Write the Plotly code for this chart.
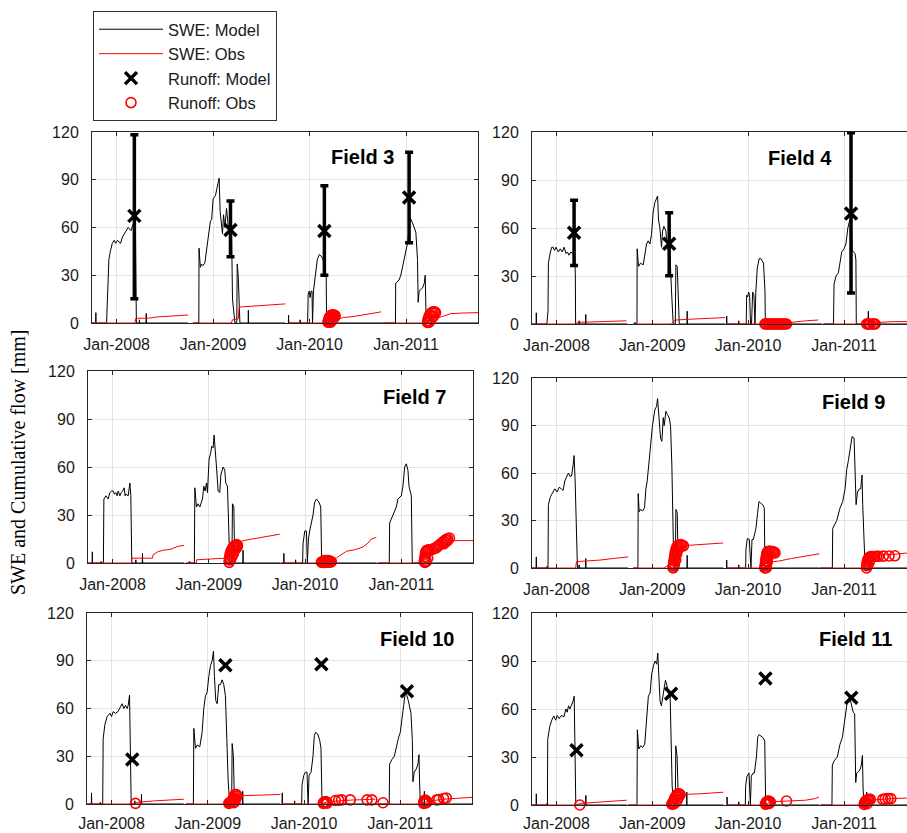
import plotly.graph_objects as go

# ---------------- DATA (decimal years, mm) ----------------
X_TICKS = [2008, 2009, 2010, 2011]
X_TICKTEXT = ["Jan-2008", "Jan-2009", "Jan-2010", "Jan-2011"]
Y_TICKS = [0, 30, 60, 90, 120]
FIELDS = ["Field 3", "Field 4", "Field 7", "Field 9", "Field 10", "Field 11"]

# ---- Field 3 ----
F3_SWE_MODEL = [
    [(2007.745,0),(2007.783,0),(2007.785,6.5),(2007.787,0),(2007.896,0),(2007.905,20),(2007.92,40),(2007.935,45),
     (2007.955,50),(2007.975,52),(2007.99,50),(2008.01,52),(2008.04,50),(2008.06,54),(2008.09,57),(2008.12,60),
     (2008.15,58),(2008.17,62),(2008.195,60),(2008.2,40),(2008.205,0),(2008.235,0),(2008.236,2),(2008.238,0),
     (2008.305,0),(2008.307,6),(2008.31,0),(2008.74,0)],
    [(2008.79,0),(2008.852,0),(2008.854,47),(2008.868,35),(2008.88,37),(2008.896,36),(2008.915,38),(2008.931,45),
     (2008.948,55),(2008.972,64),(2008.985,65),(2009.0,78),(2009.024,80),(2009.042,85),(2009.0625,91),(2009.073,70),
     (2009.087,58),(2009.097,56),(2009.108,68),(2009.122,60),(2009.139,72),(2009.155,62),(2009.167,60),(2009.191,58),
     (2009.201,15),(2009.226,0),(2009.245,0),(2009.25,37),(2009.26,30),(2009.278,0),(2009.364,0),(2009.365,8),
     (2009.367,0),(2009.747,0)],
    [(2009.78,0),(2009.782,5),(2009.784,0),(2009.9,0),(2009.902,2),(2009.904,0),(2009.979,0),(2009.985,18),
     (2009.995,20),(2010.005,16),(2010.015,20),(2010.025,20),(2010.03,0),(2010.04,20),(2010.06,30),(2010.08,40),
     (2010.1,43),(2010.12,42),(2010.14,40),(2010.16,30),(2010.172,30),(2010.176,0),(2010.75,0)],
    [(2010.753,0),(2010.89,0),(2010.892,25),(2010.91,26),(2010.927,27),(2010.945,30),(2010.962,35),(2010.979,40),
     (2010.997,45),(2011.014,50),(2011.03,58),(2011.042,66),(2011.066,63),(2011.085,60),(2011.101,57),(2011.118,40),
     (2011.125,13),(2011.135,20),(2011.17,22),(2011.188,25),(2011.198,30),(2011.208,0),(2011.745,0)],
]
F3_SWE_OBS = [
    [(2007.745,0),(2008.19,0),(2008.2,3),(2008.33,3),(2008.42,3.8),(2008.55,4.2),(2008.65,4.6),(2008.74,5)],
    [(2008.79,0),(2009.19,0),(2009.2,2),(2009.26,2.5),(2009.27,10),(2009.4,10.5),(2009.55,11),(2009.747,12)],
    [(2009.78,0),(2010.2,0),(2010.27,2),(2010.35,3.5),(2010.45,4),(2010.55,5),(2010.65,6),(2010.74,7)],
    [(2010.753,0),(2011.2,0),(2011.22,1),(2011.3,2.7),(2011.4,4.5),(2011.465,5.9),(2011.6,6.3),(2011.745,6.5)],
]
F3_RUNOFF_MODEL_T = [2008.184, 2009.18, 2010.153, 2011.031]
F3_RUNOFF_MODEL_V = [67.3, 58.4, 57.8, 78.8]
F3_RUNOFF_MODEL_HI = [118.3, 76.7, 86.2, 107.2]
F3_RUNOFF_MODEL_LO = [15.3, 41.6, 30.0, 50.4]
F3_RUNOFF_OBS = [
    (2010.19,0.5),(2010.195,1.5),(2010.2,2.5),(2010.205,3.5),(2010.215,4.3),(2010.225,5),(2010.24,5.2),(2010.255,5),
    (2010.265,4.5),(2010.21,1),(2010.225,2),(2010.24,3),(2010.255,3.5),(2010.2,0.5),(2010.22,0.5),
    (2011.222,0.3),(2011.225,1.5),(2011.23,3),(2011.24,4.5),(2011.25,5.5),(2011.265,6.5),(2011.28,7),(2011.295,7),
    (2011.305,6.5),(2011.24,1),(2011.26,2.5),(2011.28,4),(2011.235,0.3),
]

# ---- Field 4 ----
F4_SWE_MODEL = [
    [(2007.745,0),(2007.788,0),(2007.79,7),(2007.792,0),(2007.9,0),(2007.902,2),(2007.904,0),(2007.912,8),
     (2007.916,38),(2007.925,42),(2007.937,45),(2007.951,48),(2007.965,48),(2007.98,46),(2007.995,48),(2008.02,45),
     (2008.04,47),(2008.06,45),(2008.08,48),(2008.1,44),(2008.115,45),(2008.13,43),(2008.15,45),(2008.17,44),
     (2008.19,45),(2008.197,30),(2008.2,0),(2008.235,0),(2008.237,2),(2008.239,0),(2008.304,0),(2008.306,6),
     (2008.308,0),(2008.74,0)],
    [(2008.8,0),(2008.818,0),(2008.819,1),(2008.82,0),(2008.84,0),(2008.842,47),(2008.856,36),(2008.877,38),
     (2008.905,37),(2008.922,45),(2008.94,50),(2008.957,52),(2008.975,50),(2008.992,56),(2009.009,70),(2009.027,76),
     (2009.044,78),(2009.055,80),(2009.065,65),(2009.079,60),(2009.096,48),(2009.107,58),(2009.121,61),(2009.142,58),
     (2009.156,47),(2009.183,45),(2009.201,20),(2009.218,0),(2009.24,0),(2009.246,37),(2009.26,36),(2009.274,10),
     (2009.281,0),(2009.362,0),(2009.364,8),(2009.366,0),(2009.76,0)],
    [(2009.775,0),(2009.776,5),(2009.778,0),(2009.9,0),(2009.902,2),(2009.904,0),(2009.98,0),(2009.984,18),
     (2009.995,17),(2010.005,20),(2010.015,18),(2010.025,0),(2010.035,0),(2010.047,20),(2010.06,18),(2010.071,0),
     (2010.08,20),(2010.095,35),(2010.116,41),(2010.13,41),(2010.141,40),(2010.16,38),(2010.176,20),(2010.179,0),
     (2010.77,0)],
    [(2010.785,0),(2010.89,0),(2010.896,25),(2010.917,30),(2010.941,32),(2010.959,40),(2010.976,45),(2011.0,47),
     (2011.02,50),(2011.04,60),(2011.06,65),(2011.075,62),(2011.085,46),(2011.1,45),(2011.115,44),(2011.124,40),
     (2011.128,0),(2011.25,0),(2011.254,8),(2011.256,0),(2011.745,0)],
]
F4_SWE_OBS = [
    [(2007.745,0),(2008.2,0),(2008.22,1),(2008.4,1.5),(2008.6,2),(2008.73,2)],
    [(2008.8,0),(2009.2,0),(2009.22,1.5),(2009.24,2.5),(2009.4,3),(2009.6,3.5),(2009.76,4)],
    [(2009.775,0),(2010.17,0),(2010.2,0.5),(2010.45,1),(2010.6,2),(2010.73,2.5)],
    [(2010.785,0),(2011.2,0),(2011.25,0.5),(2011.4,1),(2011.5,1.5),(2011.745,1.5)],
]
F4_RUNOFF_MODEL_T = [2008.184, 2009.176, 2011.073]
F4_RUNOFF_MODEL_V = [57.1, 50.1, 69.0]
F4_RUNOFF_MODEL_HI = [77.4, 69.6, 119.6]
F4_RUNOFF_MODEL_LO = [36.5, 30.2, 19.3]
F4_RUNOFF_OBS = [
    (2010.175,0),(2010.19,0),(2010.205,0),(2010.22,0),(2010.235,0),(2010.25,0),(2010.265,0),(2010.28,0),
    (2010.295,0),(2010.31,0),(2010.325,0),(2010.34,0),(2010.355,0),(2010.37,0),(2010.385,0),(2010.4,0),
    (2011.237,0),(2011.25,0),(2011.262,0),(2011.275,0),(2011.3,0),(2011.312,0),(2011.324,0),
]

# ---- Field 7 ----
F7_SWE_MODEL = [
    [(2007.745,0),(2007.788,0),(2007.79,7),(2007.792,0),(2007.88,0),(2007.882,1),(2007.884,0),(2007.905,0),
     (2007.91,40),(2007.931,42),(2007.955,40),(2007.972,44),(2007.99,45),(2008.007,45),(2008.02,43),(2008.035,44),
     (2008.047,42),(2008.059,45),(2008.076,42),(2008.09,44),(2008.104,45),(2008.121,47),(2008.13,42),(2008.138,43),
     (2008.163,42),(2008.18,50),(2008.19,42),(2008.2,0),(2008.24,0),(2008.242,2),(2008.244,0),(2008.309,0),
     (2008.311,6),(2008.313,0),(2008.745,0)],
    [(2008.768,0),(2008.8,0),(2008.802,1),(2008.804,0),(2008.85,0),(2008.855,47),(2008.872,35),(2008.889,37),
     (2008.907,35),(2008.934,40),(2008.948,48),(2008.962,45),(2008.976,50),(2008.986,44),(2009.003,65),(2009.017,68),
     (2009.031,73),(2009.045,72),(2009.055,80),(2009.069,65),(2009.08,60),(2009.097,45),(2009.114,44),(2009.125,55),
     (2009.135,58),(2009.149,60),(2009.166,58),(2009.176,50),(2009.194,48),(2009.204,20),(2009.218,0),(2009.24,0),
     (2009.246,37),(2009.26,35),(2009.27,0),(2009.354,0),(2009.356,8),(2009.358,0),(2009.745,0)],
    [(2009.754,0),(2009.778,0),(2009.78,6),(2009.782,0),(2009.9,0),(2009.902,2),(2009.904,0),(2009.975,0),
     (2009.979,12),(2009.997,20),(2010.014,20),(2010.024,0),(2010.035,15),(2010.048,20),(2010.066,25),(2010.083,30),
     (2010.1,38),(2010.118,40),(2010.145,38),(2010.163,35),(2010.173,0),(2010.745,0)],
    [(2010.758,0),(2010.875,0),(2010.879,25),(2010.913,30),(2010.948,35),(2010.965,40),(2011.0,42),(2011.017,48),
     (2011.035,60),(2011.052,62),(2011.069,58),(2011.08,48),(2011.104,42),(2011.114,0),(2011.745,0)],
]
F7_SWE_OBS = [
    [(2007.745,0),(2008.197,0),(2008.2,3),(2008.415,3),(2008.42,5),(2008.47,7),(2008.526,8),(2008.6,8.5),
     (2008.68,10.4),(2008.744,11)],
    [(2008.768,0),(2008.87,0),(2008.872,2),(2009.1,2.5),(2009.17,3),(2009.19,4),(2009.3,12),(2009.356,14),
     (2009.46,15),(2009.53,16),(2009.633,17),(2009.737,18)],
    [(2009.754,0),(2010.17,0),(2010.29,2),(2010.325,3),(2010.36,4.6),(2010.43,7.3),(2010.516,8.3),(2010.602,10),
     (2010.654,12.5),(2010.689,15),(2010.74,16)],
    [(2010.758,0),(2011.18,0),(2011.19,3),(2011.24,3.2),(2011.5,14),(2011.745,14)],
]
F7_RUNOFF_MODEL_T = []
F7_RUNOFF_MODEL_V = []
F7_RUNOFF_OBS = [
    (2009.211,0.4),(2009.213,2),(2009.216,3.5),(2009.22,5),(2009.226,6.5),(2009.233,7.5),(2009.24,8.5),(2009.25,9.5),
    (2009.26,10.2),(2009.27,10.8),(2009.28,11.2),(2009.29,11.5),(2009.298,11),(2009.225,2),(2009.24,4),(2009.255,6),
    (2009.27,8),(2009.285,9.5),(2009.295,10),
    (2010.17,0.5),(2010.185,1),(2010.2,1.5),(2010.215,1.5),(2010.23,1.5),(2010.245,1.5),(2010.26,1),(2010.273,0.8),
    (2010.18,0.3),(2010.2,0.3),(2010.22,0.5),(2010.24,0.5),(2010.26,0.5),
    (2011.242,1),(2011.244,2.5),(2011.247,4),(2011.25,5.5),(2011.255,7),(2011.262,7.8),(2011.272,8),(2011.283,8.2),
    (2011.245,0.3),(2011.26,1),(2011.275,3),
    (2011.3,8),(2011.32,8.5),(2011.34,9),(2011.363,9.5),(2011.38,10.5),(2011.4,11.5),(2011.42,12.5),(2011.44,13.5),
    (2011.46,14.5),(2011.48,15.2),(2011.5,15.6),(2011.48,14),(2011.46,13),(2011.44,12),
]

# ---- Field 9 ----
F9_SWE_MODEL = [
    [(2007.745,0),(2007.788,0),(2007.79,7),(2007.792,0),(2007.9,0),(2007.902,1),(2007.904,0),(2007.912,0),
     (2007.916,40),(2007.937,45),(2007.958,47),(2007.983,50),(2008.007,48),(2008.028,51),(2008.052,50),(2008.07,49),
     (2008.087,55),(2008.111,58),(2008.125,60),(2008.139,58),(2008.157,58),(2008.174,65),(2008.184,71),(2008.195,55),
     (2008.202,40),(2008.209,20),(2008.219,0),(2008.235,0),(2008.237,2),(2008.239,0),(2008.304,0),(2008.306,6),
     (2008.308,0),(2008.748,0)],
    [(2008.8,0),(2008.85,0),(2008.853,47),(2008.863,35.5),(2008.877,37),(2008.898,36),(2008.919,38),(2008.933,50),
     (2008.947,55),(2008.968,70),(2008.982,78),(2009.002,90),(2009.027,100),(2009.044,102),(2009.055,107),(2009.065,100),
     (2009.076,90),(2009.086,82),(2009.1,80),(2009.114,95),(2009.124,90),(2009.142,99),(2009.156,97),(2009.176,95),
     (2009.19,90),(2009.204,65),(2009.215,30),(2009.225,0),(2009.24,0),(2009.246,37),(2009.26,35),(2009.27,0),
     (2009.362,0),(2009.364,8),(2009.366,0),(2009.74,0)],
    [(2009.775,0),(2009.776,5),(2009.778,0),(2009.9,0),(2009.902,2),(2009.904,0),(2009.974,0),(2009.977,12),
     (2009.991,18.6),(2010.012,18),(2010.029,0),(2010.04,18),(2010.054,18),(2010.064,20),(2010.081,25),(2010.099,35),
     (2010.113,42),(2010.13,41),(2010.151,40),(2010.168,38),(2010.175,0),(2010.745,0)],
    [(2010.75,0),(2010.878,0),(2010.882,25),(2010.906,28),(2010.924,30),(2010.959,38),(2010.986,42),(2011.011,50),
     (2011.028,62),(2011.046,68),(2011.063,75),(2011.084,83),(2011.105,82),(2011.119,60),(2011.126,40),(2011.14,48),
     (2011.16,50),(2011.174,50),(2011.188,58.7),(2011.195,40),(2011.209,20),(2011.22,0),(2011.745,0)],
]
F9_SWE_OBS = [
    [(2007.745,0),(2008.2,0),(2008.209,4),(2008.348,4.5),(2008.452,5),(2008.592,6),(2008.748,7)],
    [(2008.8,0),(2009.12,0),(2009.15,1),(2009.18,2),(2009.3,14),(2009.4,14.5),(2009.55,15.2),(2009.74,15.8)],
    [(2009.775,0),(2010.15,0),(2010.26,4),(2010.33,4.5),(2010.45,6),(2010.55,7),(2010.62,8),(2010.743,9)],
    [(2010.75,0),(2011.18,0),(2011.21,1),(2011.27,8),(2011.5,8.5),(2011.745,10)],
]
F9_RUNOFF_MODEL_T = []
F9_RUNOFF_MODEL_V = []
F9_RUNOFF_OBS = [
    (2009.218,0),(2009.22,1.5),(2009.223,3),(2009.226,4.5),(2009.23,6),(2009.234,7.5),(2009.238,9),(2009.242,10.5),
    (2009.248,12),(2009.256,13.3),(2009.266,14.2),(2009.28,14.6),(2009.295,14.8),(2009.31,14.5),(2009.325,14),
    (2009.215,0.5),(2009.23,2),(2009.245,5),(2009.255,9),(2009.265,11.5),(2009.275,12.5),
    (2010.175,0),(2010.177,1.5),(2010.18,3),(2010.183,4.5),(2010.186,6),(2010.19,7.5),(2010.195,9),(2010.2,10),
    (2010.21,10.5),(2010.225,10.6),(2010.24,10.5),(2010.255,10.3),(2010.27,10),(2010.28,9.5),(2010.19,2),
    (2010.2,4),(2010.21,7),(2010.175,0.3),(2010.19,0.2),
    (2011.235,0),(2011.237,1.5),(2011.24,3),(2011.245,4.5),(2011.25,5.5),(2011.26,6.5),(2011.272,7),(2011.285,7.2),
    (2011.3,7.3),(2011.32,7.3),(2011.34,7.4),(2011.36,7.4),(2011.41,7.5),(2011.47,7.6),(2011.53,7.7),
    (2011.25,2),(2011.265,4),
]

# ---- Field 10 ----
F10_SWE_MODEL = [
    [(2007.747,0),(2007.79,0),(2007.792,7),(2007.794,0),(2007.88,0),(2007.882,1),(2007.884,0),(2007.908,0),
     (2007.913,41),(2007.931,50),(2007.955,55),(2007.983,57),(2008.0,55),(2008.017,58),(2008.042,57),(2008.066,58),
     (2008.087,60),(2008.111,63),(2008.128,60),(2008.145,62),(2008.163,60),(2008.173,62),(2008.187,68.4),
     (2008.197,30),(2008.204,0),(2008.24,0),(2008.242,2),(2008.244,0),(2008.309,0),(2008.311,6),(2008.313,0),
     (2008.751,0)],
    [(2008.77,0),(2008.85,0),(2008.855,47.5),(2008.872,35),(2008.889,37),(2008.917,36),(2008.941,45),(2008.958,60),
     (2008.976,68),(2008.993,70),(2009.01,80),(2009.028,87),(2009.045,90),(2009.059,96),(2009.069,80),(2009.083,65),
     (2009.097,63),(2009.114,75),(2009.131,75),(2009.149,78),(2009.166,75),(2009.183,68),(2009.201,35),(2009.211,15),
     (2009.228,0),(2009.248,0),(2009.253,38),(2009.266,30),(2009.277,0),(2009.361,0),(2009.363,8),(2009.365,0),
     (2009.754,0)],
    [(2009.772,0),(2009.774,7),(2009.776,0),(2009.9,0),(2009.902,2),(2009.904,0),(2009.975,0),(2009.979,12),
     (2009.997,18),(2010.014,20),(2010.031,20),(2010.042,0),(2010.052,18),(2010.073,20),(2010.093,30),(2010.107,43),
     (2010.121,45),(2010.142,44),(2010.163,40),(2010.176,35),(2010.187,0),(2010.76,0)],
    [(2010.775,0),(2010.885,0),(2010.889,25),(2010.913,28),(2010.938,30),(2010.965,38),(2010.983,42),(2011.0,45),
     (2011.017,55),(2011.035,62),(2011.052,70),(2011.069,68),(2011.083,65),(2011.097,60),(2011.111,57),(2011.125,40),
     (2011.131,14),(2011.145,20),(2011.166,22),(2011.183,25),(2011.194,31),(2011.2,15),(2011.208,0),(2011.248,0),
     (2011.25,8),(2011.252,0),(2011.745,0)],
]
F10_SWE_OBS = [
    [(2007.747,0),(2008.21,0),(2008.26,1),(2008.45,2),(2008.751,3)],
    [(2008.77,0),(2009.19,0),(2009.26,5),(2009.5,5.5),(2009.754,6)],
    [(2009.772,0),(2010.17,0),(2010.25,1.5),(2010.35,2),(2010.5,2.5),(2010.74,3)],
    [(2010.775,0),(2011.2,0),(2011.25,1),(2011.32,2),(2011.45,3),(2011.745,4.2)],
]
F10_RUNOFF_MODEL_T = [2008.215, 2009.183, 2010.18, 2011.069]
F10_RUNOFF_MODEL_V = [28.0, 87.2, 87.8, 70.9]
F10_RUNOFF_OBS = [
    (2008.249,0.4),
    (2009.218,0.4),(2009.225,0.8),(2009.235,1.2),(2009.245,1.5),(2009.255,2),(2009.262,3),(2009.268,4),(2009.275,5),
    (2009.285,6),(2009.295,6),(2009.304,5),(2009.29,3),(2009.28,1.5),(2009.27,0.8),
    (2010.2,0.4),(2010.205,1),(2010.215,1.2),(2010.225,1.5),(2010.235,1),(2010.24,0.5),(2010.325,2.2),(2010.36,2.4),
    (2010.39,2.6),(2010.48,2.6),(2010.655,2.6),(2010.705,2.6),(2010.82,0.8),
    (2011.242,0.4),(2011.245,1.2),(2011.25,2),(2011.258,2.5),(2011.268,2),(2011.277,1.2),(2011.26,0.6),
    (2011.38,2.6),(2011.4,2.8),(2011.45,3.5),(2011.478,3.8),
]

# ---- Field 11 ----
F11_SWE_MODEL = [
    [(2007.745,0),(2007.788,0),(2007.79,7),(2007.792,0),(2007.9,0),(2007.902,1),(2007.904,0),(2007.906,0),
     (2007.909,41),(2007.93,49),(2007.951,53),(2007.972,55.6),(2007.993,53),(2008.007,56),(2008.028,54),(2008.052,56),
     (2008.077,55),(2008.098,60),(2008.112,58),(2008.126,62),(2008.14,60),(2008.157,62),(2008.174,65),(2008.185,68),
     (2008.195,30),(2008.202,0),(2008.305,0),(2008.307,6),(2008.309,0),(2008.733,0)],
    [(2008.75,0),(2008.84,0),(2008.844,47),(2008.858,35),(2008.879,37),(2008.9,36),(2008.921,38),(2008.942,55),
     (2008.959,68),(2008.977,70),(2008.994,82),(2009.012,87),(2009.029,90),(2009.046,88),(2009.057,95),(2009.067,82),
     (2009.081,65),(2009.095,62),(2009.109,68),(2009.123,72),(2009.137,78),(2009.151,75),(2009.168,70),(2009.186,68),
     (2009.196,30),(2009.207,12),(2009.221,0),(2009.24,0),(2009.245,37),(2009.259,30),(2009.273,0),(2009.358,0),
     (2009.36,8),(2009.362,0),(2009.74,0)],
    [(2009.779,0),(2009.78,5),(2009.782,0),(2009.9,0),(2009.902,2),(2009.904,0),(2009.97,0),(2009.974,12),
     (2009.988,18),(2010.009,20),(2010.023,0),(2010.033,18),(2010.051,20),(2010.065,20),(2010.086,30),(2010.1,42.6),
     (2010.114,44),(2010.135,43),(2010.156,42),(2010.173,40),(2010.183,0),(2010.74,0)],
    [(2010.755,0),(2010.874,0),(2010.878,25),(2010.902,28),(2010.93,30),(2010.958,38),(2010.982,42),(2011.0,50),
     (2011.017,58),(2011.035,65),(2011.052,67),(2011.069,65),(2011.087,60),(2011.097,58),(2011.111,57),(2011.122,14),
     (2011.132,20),(2011.15,21),(2011.167,22),(2011.181,25),(2011.192,31),(2011.199,10),(2011.209,0),(2011.235,0),
     (2011.237,8),(2011.239,0),(2011.745,0)],
]
F11_SWE_OBS = [
    [(2007.745,0),(2008.2,0),(2008.25,1),(2008.5,2),(2008.733,3)],
    [(2008.75,0),(2009.19,0),(2009.27,6.5),(2009.5,7),(2009.74,8)],
    [(2009.779,0),(2010.18,0),(2010.23,2),(2010.45,2.5),(2010.6,3),(2010.7,4),(2010.738,5)],
    [(2010.755,0),(2011.21,0),(2011.22,2),(2011.28,3),(2011.49,4),(2011.745,4.5)],
]
F11_RUNOFF_MODEL_T = [2008.209, 2009.196, 2010.18, 2011.076]
F11_RUNOFF_MODEL_V = [34.2, 69.6, 79.1, 67.1]
F11_RUNOFF_OBS = [
    (2008.244,0),
    (2009.203,0.5),(2009.21,1),(2009.218,1.8),(2009.225,2.8),(2009.232,3.8),(2009.24,4.8),(2009.25,5.8),(2009.26,6.5),
    (2009.27,7),(2009.28,7),(2009.29,6.5),(2009.22,0.6),(2009.24,1.5),(2009.26,3),(2009.275,5),
    (2010.18,0.5),(2010.185,1.2),(2010.192,1.8),(2010.2,2.3),(2010.21,2.5),(2010.22,2.3),(2010.232,1.8),(2010.2,0.8),
    (2010.22,1),(2010.4,2.5),
    (2011.21,0.3),(2011.215,1.2),(2011.22,2),(2011.23,2.8),(2011.245,3.3),(2011.26,3.5),(2011.275,3.5),(2011.24,0.8),
    (2011.405,3.5),(2011.43,3.8),(2011.46,4),(2011.488,4),
]

# ---------------- LAYOUT HELPERS ----------------
W, H = 907, 833
# panel boxes in pixels: (left, right, top, bottom), x-range, x tick-label standoff
PANELS = [
    dict(box=(92, 478, 132, 323), xr=(2007.745, 2011.745), right_border=True, xstand=7),
    dict(box=(532, 907, 132, 324), xr=(2007.745, 2011.657), right_border=False, xstand=7),
    dict(box=(88, 473, 371, 563), xr=(2007.745, 2011.745), right_border=True, xstand=7),
    dict(box=(532, 907, 378, 568), xr=(2007.745, 2011.657), right_border=False, xstand=7),
    dict(box=(87, 472, 613, 804), xr=(2007.745, 2011.745), right_border=True, xstand=5),
    dict(box=(532, 907, 613, 805), xr=(2007.745, 2011.657), right_border=False, xstand=4),
]
TITLE_POS = [(362, 157), (800, 158), (414, 397), (853, 402), (417, 639), (855, 639)]

DATA = [
    (F3_SWE_MODEL, F3_SWE_OBS, F3_RUNOFF_MODEL_T, F3_RUNOFF_MODEL_V, F3_RUNOFF_MODEL_HI, F3_RUNOFF_MODEL_LO, F3_RUNOFF_OBS),
    (F4_SWE_MODEL, F4_SWE_OBS, F4_RUNOFF_MODEL_T, F4_RUNOFF_MODEL_V, F4_RUNOFF_MODEL_HI, F4_RUNOFF_MODEL_LO, F4_RUNOFF_OBS),
    (F7_SWE_MODEL, F7_SWE_OBS, F7_RUNOFF_MODEL_T, F7_RUNOFF_MODEL_V, None, None, F7_RUNOFF_OBS),
    (F9_SWE_MODEL, F9_SWE_OBS, F9_RUNOFF_MODEL_T, F9_RUNOFF_MODEL_V, None, None, F9_RUNOFF_OBS),
    (F10_SWE_MODEL, F10_SWE_OBS, F10_RUNOFF_MODEL_T, F10_RUNOFF_MODEL_V, None, None, F10_RUNOFF_OBS),
    (F11_SWE_MODEL, F11_SWE_OBS, F11_RUNOFF_MODEL_T, F11_RUNOFF_MODEL_V, None, None, F11_RUNOFF_OBS),
]


def join_segments(segs):
    xs, ys = [], []
    for i, seg in enumerate(segs):
        if i:
            xs.append(None)
            ys.append(None)
        xs += [p[0] for p in seg]
        ys += [p[1] for p in seg]
    return xs, ys


TICK_FONT = dict(family="Liberation Sans, Arial, Helvetica", size=16, color="#1a1a1a")
AX_COLOR = "#262626"
GRID = "#e3e3e3"

fig = go.Figure()
layout = dict()
annotations = []

for i, (panel, data) in enumerate(zip(PANELS, DATA)):
    n = "" if i == 0 else str(i + 1)
    xa, ya = "x" + n, "y" + n
    swe_mod, swe_obs, rm_t, rm_v, rm_hi, rm_lo, ro = data
    first = i == 0

    x, y = join_segments(swe_mod)
    fig.add_trace(go.Scatter(x=x, y=y, mode="lines", line=dict(color="black", width=1),
                             name="SWE: Model", legendgroup="a", showlegend=first,
                             xaxis=xa, yaxis=ya, connectgaps=False, hoverinfo="skip"))
    x, y = join_segments(swe_obs)
    fig.add_trace(go.Scatter(x=x, y=y, mode="lines", line=dict(color="#ff0000", width=1),
                             name="SWE: Obs", legendgroup="b", showlegend=first,
                             xaxis=xa, yaxis=ya, connectgaps=False, hoverinfo="skip"))
    err = None
    if rm_hi is not None:
        err = dict(type="data", symmetric=False,
                   array=[h - v for h, v in zip(rm_hi, rm_v)],
                   arrayminus=[v - l for v, l in zip(rm_v, rm_lo)],
                   color="black", thickness=3.5, width=4)
    fig.add_trace(go.Scatter(x=rm_t if rm_t else [None], y=rm_v if rm_v else [None], mode="markers",
                             marker=dict(symbol="x-thin", size=12, color="black",
                                         line=dict(color="black", width=3.5)),
                             error_y=err, cliponaxis=False,
                             name="Runoff: Model", legendgroup="c", showlegend=first,
                             xaxis=xa, yaxis=ya, hoverinfo="skip"))
    fig.add_trace(go.Scatter(x=[p[0] for p in ro], y=[p[1] for p in ro], mode="markers",
                             marker=dict(symbol="circle-open", size=10, color="#ff0000",
                                         line=dict(color="#ff0000", width=1.6)),
                             cliponaxis=False,
                             name="Runoff: Obs", legendgroup="d", showlegend=first,
                             xaxis=xa, yaxis=ya, hoverinfo="skip"))

    l, r, t, b = panel["box"]
    layout["xaxis" + n] = dict(
        domain=[l / W, min(r / W, 1.0)], anchor=ya, range=list(panel["xr"]),
        tickvals=X_TICKS, ticktext=X_TICKTEXT, tickfont=TICK_FONT,
        showgrid=True, gridcolor=GRID, gridwidth=1, zeroline=False,
        showline=True, linecolor=AX_COLOR, linewidth=1, mirror="ticks",
        ticks="inside", ticklen=4, tickcolor=AX_COLOR, ticklabelstandoff=panel["xstand"],
        automargin=False,
    )
    layout["yaxis" + n] = dict(
        domain=[1 - b / H, 1 - t / H], anchor=xa, range=[0, 120],
        tickvals=Y_TICKS, tickfont=TICK_FONT,
        showgrid=True, gridcolor=GRID, gridwidth=1, zeroline=False,
        showline=True, linecolor=AX_COLOR, linewidth=1,
        mirror="ticks" if panel["right_border"] else False,
        ticks="inside", ticklen=4, tickcolor=AX_COLOR, ticklabelstandoff=9,
        automargin=False,
    )
    tx, ty = TITLE_POS[i]
    annotations.append(dict(text="<b>%s</b>" % FIELDS[i], x=tx / W, y=1 - ty / H, xref="paper", yref="paper",
                            xanchor="center", yanchor="middle", showarrow=False,
                            font=dict(family="Liberation Sans, Arial, Helvetica", size=20, color="black")))

annotations.append(dict(text="SWE and Cumulative flow [mm]", x=18 / W, y=1 - 462 / H, xref="paper", yref="paper",
                        xanchor="center", yanchor="middle", showarrow=False, textangle=-90,
                        font=dict(family="Liberation Serif, Times New Roman, serif", size=20, color="black")))

fig.update_layout(
    width=W, height=H, margin=dict(l=0, r=0, t=0, b=0, pad=0, autoexpand=False),
    paper_bgcolor="white", plot_bgcolor="white",
    annotations=annotations,
    showlegend=True,
    legend=dict(x=93 / W, y=1 - 11 / H, xanchor="left", yanchor="top",
                bordercolor="#333333", borderwidth=1, bgcolor="white",
                font=dict(family="Liberation Sans, Arial, Helvetica", size=16.5, color="#1a1a1a"),
                itemwidth=64, tracegroupgap=0),
    **layout,
)

fig.write_html("out.html", config={"displayModeBar": False},
               post_script="document.body.style.margin='0';document.body.style.overflow='hidden';")
